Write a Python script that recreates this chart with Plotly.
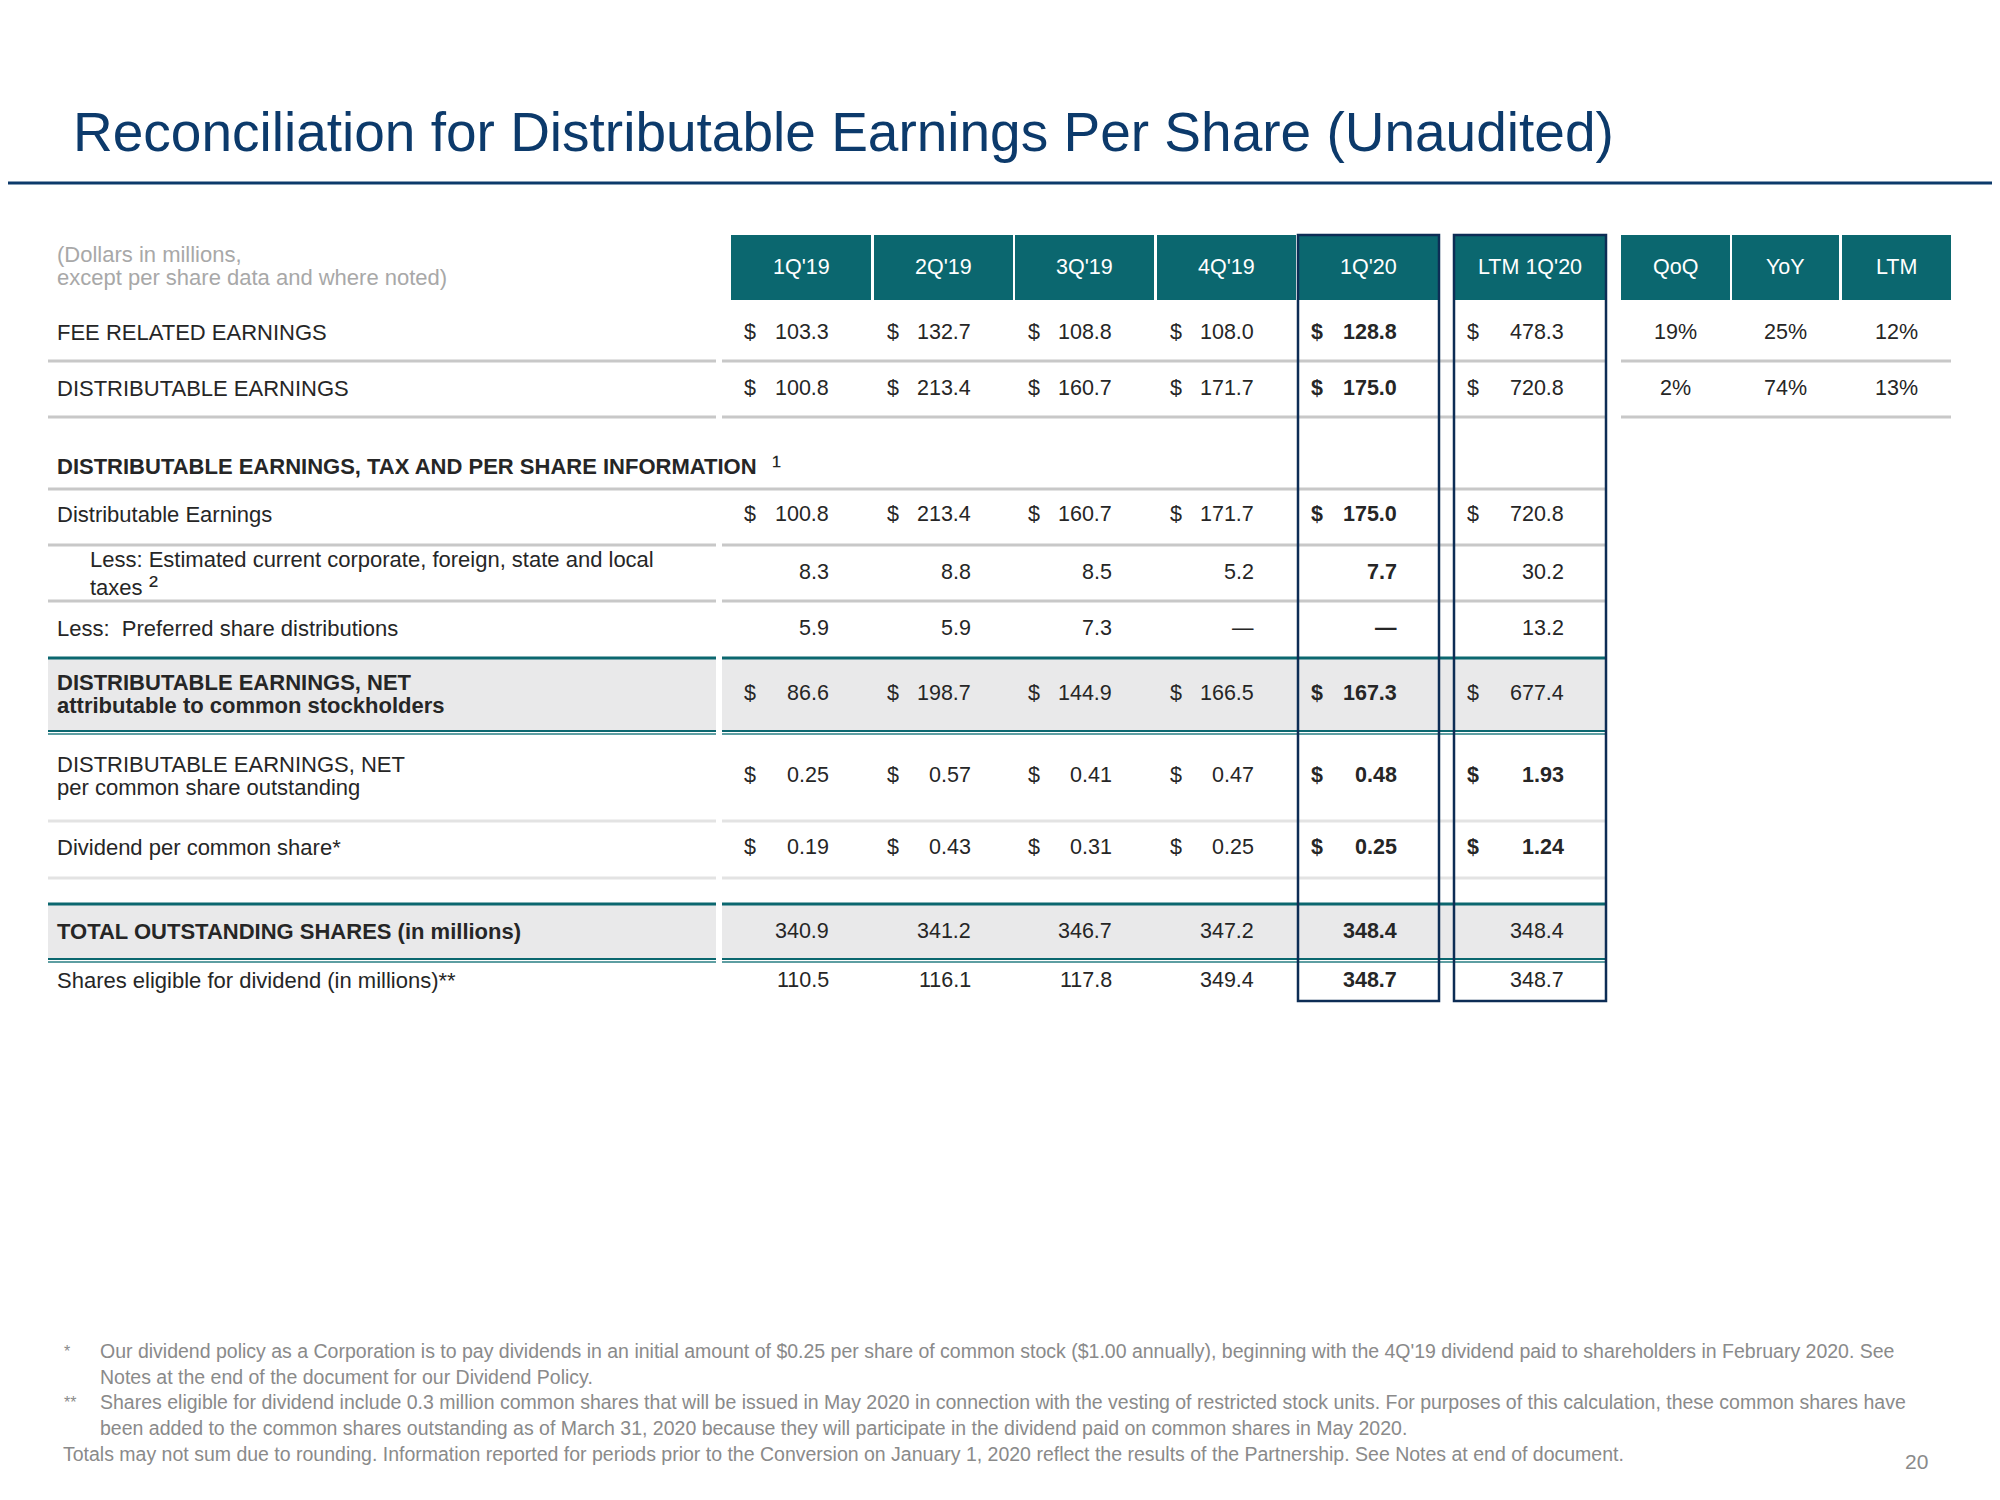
import plotly.graph_objects as go

# ---------------- data ----------------
periods = ["1Q'19", "2Q'19", "3Q'19", "4Q'19", "1Q'20", "LTM 1Q'20"]
growth_cols = ["QoQ", "YoY", "LTM"]

fee_related_earnings = [103.3, 132.7, 108.8, 108.0, 128.8, 478.3]
fre_growth = ["19%", "25%", "12%"]
distributable_earnings = [100.8, 213.4, 160.7, 171.7, 175.0, 720.8]
de_growth = ["2%", "74%", "13%"]
est_taxes = [8.3, 8.8, 8.5, 5.2, 7.7, 30.2]
preferred_distributions = [5.9, 5.9, 7.3, None, None, 13.2]
de_net = [86.6, 198.7, 144.9, 166.5, 167.3, 677.4]
de_net_per_share = [0.25, 0.57, 0.41, 0.47, 0.48, 1.93]
dividend_per_share = [0.19, 0.43, 0.31, 0.25, 0.25, 1.24]
total_outstanding_shares = [340.9, 341.2, 346.7, 347.2, 348.4, 348.4]
shares_eligible = [110.5, 116.1, 117.8, 349.4, 348.7, 348.7]

title_text = "Reconciliation for Distributable Earnings Per Share (Unaudited)"
units_note = ["(Dollars in millions,", "except per share data and where noted)"]
footnotes = [
    ("*", "Our dividend policy as a Corporation is to pay dividends in an initial amount of $0.25 per share of common stock ($1.00 annually), beginning with the 4Q'19 dividend paid to shareholders in February 2020. See"),
    ("", "Notes at the end of the document for our Dividend Policy."),
    ("**", "Shares eligible for dividend include 0.3 million common shares that will be issued in May 2020 in connection with the vesting of restricted stock units. For purposes of this calculation, these common shares have"),
    ("", "been added to the common shares outstanding as of March 31, 2020 because they will participate in the dividend paid on common shares in May 2020."),
]
closing_note = "Totals may not sum due to rounding. Information reported for periods prior to the Conversion on January 1, 2020 reflect the results of the Partnership. See Notes at end of document."
page_number = "20"

# ---------------- styles / geometry ----------------
FONT = "Liberation Sans, Arial, sans-serif"
NAVY = "#0C3A6B"
BOX = "#0D2D55"
TEAL = "#0B676F"
TEAL_LIGHT = "#5E9EA2"
GRAY_LINE = "#C8C8C8"
LIGHT_LINE = "#E3E3E3"
SHADE = "#E9E9EA"
TXT = "#262626"
FS = 22      # labels
VS = 21.5    # values / headers
FN = 19.5    # footnotes

col_left = [731, 874, 1015, 1157, 1298, 1454]
col_right = [871, 1013, 1154, 1296, 1439, 1606]
g_left = [1621, 1732, 1842]
g_right = [1730, 1839, 1951]
LBL_X0, LBL_X1 = 48, 716
DATA_X0 = 722

fig = go.Figure()
fig.add_trace(go.Scatter(x=[100, 1900], y=[100, 1400], mode="markers",
                         marker=dict(opacity=0), hoverinfo="skip", showlegend=False))

shapes = []
ann = []


def text(x, y, s, size=FS, color=TXT, anchor="left", bold=False, yanchor="middle"):
    if bold:
        s = "<b>" + s + "</b>"
    ann.append(dict(x=x, y=y, xref="x", yref="y", text=s, showarrow=False,
                    xanchor=anchor, yanchor=yanchor,
                    font=dict(family=FONT, size=size, color=color)))


def hline(y, x0, x1, color, w):
    shapes.append(dict(type="line", xref="x", yref="y", x0=x0, x1=x1, y0=y, y1=y,
                       line=dict(color=color, width=w), layer="below"))


def rect(x0, y0, x1, y1, fill, line_color=None, lw=0, layer="below"):
    shapes.append(dict(type="rect", xref="x", yref="y", x0=x0, x1=x1, y0=y0, y1=y1,
                       fillcolor=fill, line=dict(color=line_color or fill, width=lw), layer=layer))


# title
text(71, 132, title_text, size=55, color=NAVY)
hline(183, 0, 2000, NAVY, 3)

# units note
text(55, 254, units_note[0], color="#A8A8A8")
text(55, 277, units_note[1], color="#A8A8A8")

# header boxes
for i, p in enumerate(periods):
    rect(col_left[i], 235, col_right[i], 300, TEAL)
    text((col_left[i] + col_right[i]) / 2, 267, p, size=VS, color="white", anchor="center")
for i, g in enumerate(growth_cols):
    rect(g_left[i], 235, g_right[i], 300, TEAL)
    text((g_left[i] + g_right[i]) / 2, 267, g, size=VS, color="white", anchor="center")

# shaded rows
for (y0, y1) in [(658, 731), (904, 959)]:
    rect(LBL_X0, y0, LBL_X1, y1, SHADE)
    rect(DATA_X0, y0, col_right[-1], y1, SHADE)

# row separator lines
for y in [361, 417]:
    hline(y, LBL_X0, LBL_X1, GRAY_LINE, 3)
    hline(y, DATA_X0, col_right[-1], GRAY_LINE, 3)
    hline(y, g_left[0], g_right[-1], GRAY_LINE, 3)
hline(489, LBL_X0, col_right[-1], GRAY_LINE, 3)
for y in [545, 601]:
    hline(y, LBL_X0, LBL_X1, GRAY_LINE, 3)
    hline(y, DATA_X0, col_right[-1], GRAY_LINE, 3)
for y in [821, 878]:
    hline(y, LBL_X0, LBL_X1, LIGHT_LINE, 3)
    hline(y, DATA_X0, col_right[-1], LIGHT_LINE, 3)
for y in [658, 904]:
    hline(y, LBL_X0, LBL_X1, TEAL, 3)
    hline(y, DATA_X0, col_right[-1], TEAL, 3)
for y in [731, 959]:
    for (a, b) in [(LBL_X0, LBL_X1), (DATA_X0, col_right[-1])]:
        hline(y, a, b, TEAL, 2)
        hline(y + 3, a, b, TEAL_LIGHT, 2)

# highlight boxes for 1Q'20 and LTM
for i in [4, 5]:
    rect(col_left[i], 235, col_right[i], 1001, "rgba(0,0,0,0)", BOX, 2.5, layer="above")


def fmt(v, dec):
    if v is None:
        return "\u2014"
    return f"{v:,.{dec}f}"


def value_row(y, values, dec, dollar, bold_ltm=False):
    for i, v in enumerate(values):
        bold = (i == 4) or (bold_ltm and i == 5)
        if dollar:
            text(col_left[i] + 11, y, "$", size=VS, bold=bold)
        text(col_right[i] - 40, y, fmt(v, dec), size=VS, bold=bold, anchor="right")


def growth_row(y, values):
    for i, v in enumerate(values):
        text((g_left[i] + g_right[i]) / 2, y, v, size=VS, anchor="center")


LX = 55
# FRE
text(LX, 332, "FEE RELATED EARNINGS")
value_row(332, fee_related_earnings, 1, True)
growth_row(332, fre_growth)
# DE
text(LX, 388, "DISTRIBUTABLE EARNINGS")
value_row(388, distributable_earnings, 1, True)
growth_row(388, de_growth)
# section header
text(LX, 466, "<b>DISTRIBUTABLE EARNINGS, TAX AND PER SHARE INFORMATION</b>")
text(770, 466, "\u00b9", size=27)
# Distributable earnings
text(LX, 514, "Distributable Earnings")
value_row(514, distributable_earnings, 1, True)
# taxes
text(88, 559, "Less: Estimated current corporate, foreign, state and local")
text(88, 587, "taxes")
text(147, 586, "\u00b2", size=27)
value_row(572, est_taxes, 1, False)
# preferred
text(LX, 628, "Less:  Preferred share distributions")
value_row(628, preferred_distributions, 1, False)
# DE net
text(LX, 682, "DISTRIBUTABLE EARNINGS, NET", bold=True)
text(LX, 705, "attributable to common stockholders", bold=True)
value_row(693, de_net, 1, True)
# per share
text(LX, 764, "DISTRIBUTABLE EARNINGS, NET")
text(LX, 787, "per common share outstanding")
value_row(775, de_net_per_share, 2, True, bold_ltm=True)
# dividend
text(LX, 847, "Dividend per common share*")
value_row(847, dividend_per_share, 2, True, bold_ltm=True)
# total outstanding shares
text(LX, 931, "TOTAL OUTSTANDING SHARES (in millions)", bold=True)
value_row(931, total_outstanding_shares, 1, False)
# eligible
text(LX, 980, "Shares eligible for dividend (in millions)**")
value_row(980, shares_eligible, 1, False)

# footnotes
FN_COLOR = "#8A8A8A"
fn_y = [1351, 1377, 1402, 1428]
for (mark, line), y in zip(footnotes, fn_y):
    if mark:
        text(62, y, mark, size=16, color=FN_COLOR)
    text(98, y, line, size=FN, color=FN_COLOR)
text(61, 1454, closing_note, size=FN, color=FN_COLOR)
text(1916, 1461, page_number, size=21, color=FN_COLOR, anchor="center")

# The page body has an 8px margin; shift the coordinate frame so that
# data coordinates coincide with window pixels.
OFF = 8
fig.update_layout(
    width=2000 - OFF, height=1500 - OFF, autosize=False,
    margin=dict(l=0, r=0, t=0, b=0, pad=0),
    paper_bgcolor="white", plot_bgcolor="white",
    xaxis=dict(range=[OFF, 2000], visible=False, fixedrange=True),
    yaxis=dict(range=[1500, OFF], visible=False, fixedrange=True),
    shapes=shapes, annotations=ann, showlegend=False,
)

fig.write_html("out.html")
